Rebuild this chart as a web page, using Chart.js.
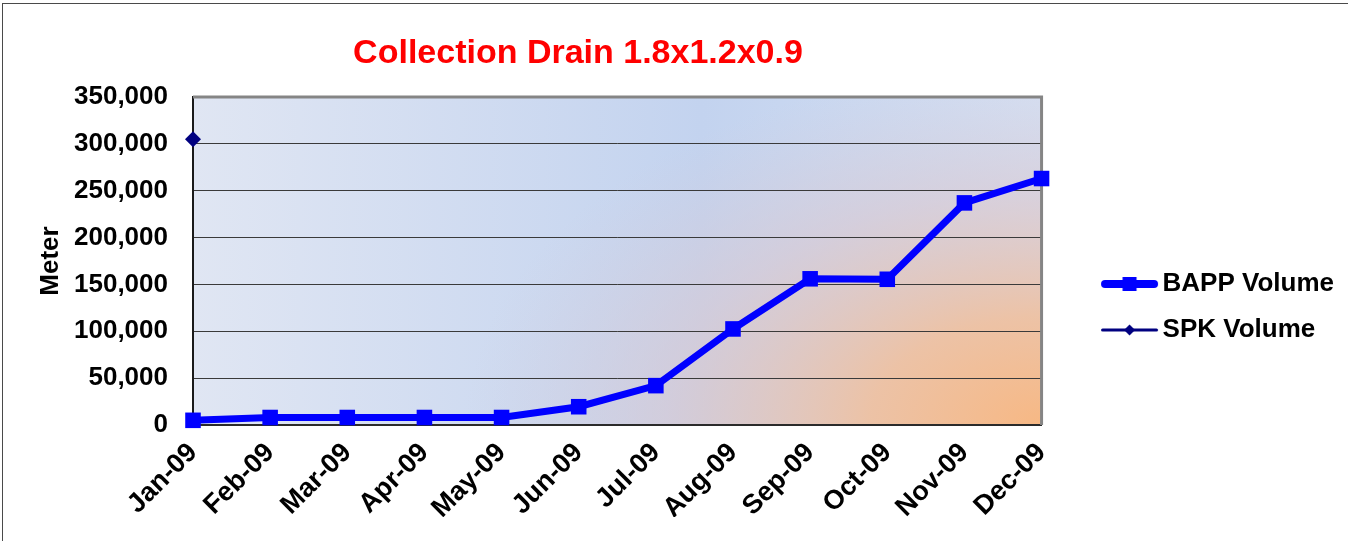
<!DOCTYPE html>
<html>
<head>
<meta charset="utf-8">
<title>Collection Drain 1.8x1.2x0.9</title>
<script src="https://cdn.jsdelivr.net/npm/chart.js@4.4.1/dist/chart.umd.min.js"></script>
<style>
    html, body { margin: 0; padding: 0; background: #fff; overflow: hidden; }
    #wrap { position: relative; width: 1348px; height: 541px; overflow: hidden; }
    #frame { position: absolute; left: 2px; top: 3px; width: 1360px; height: 560px; border: 1px solid #4a4a4a; pointer-events: none; }
</style>
</head>
<body>
<div id="wrap">
    <canvas id="drainChart" width="1348" height="541"></canvas>
    <div id="frame"></div>
</div>
<script>
// chart data
var months = ['Jan-09', 'Feb-09', 'Mar-09', 'Apr-09', 'May-09', 'Jun-09',
              'Jul-09', 'Aug-09', 'Sep-09', 'Oct-09', 'Nov-09', 'Dec-09'];
var bappVolume = [5000, 8000, 8000, 8000, 8000, 19500, 42000, 102500, 156000, 155500, 237000, 263000];
var spkVolume = [305000, null, null, null, null, null, null, null, null, null, null, null];
var yTicks = [0, 50000, 100000, 150000, 200000, 250000, 300000, 350000];

var titleText = 'Collection Drain 1.8x1.2x0.9';
var fontFamily = "'Liberation Sans', Arial, sans-serif";

// small line + marker picture used as the legend symbol
function legendSwatch(color, lineW, shape, size) {
    var c = document.createElement('canvas');
    c.width = 59;
    c.height = 22;
    var g = c.getContext('2d');
    g.strokeStyle = color;
    g.lineWidth = lineW;
    g.lineCap = 'round';
    g.beginPath();
    g.moveTo(lineW / 2 + 1, 11);
    g.lineTo(59 - lineW / 2 - 1, 11);
    g.stroke();
    g.fillStyle = color;
    if (shape === 'rect') {
        g.fillRect(29.5 - size / 2, 11 - size / 2, size, size);
    } else {
        g.beginPath();
        g.moveTo(29.5, 11 - size / 2);
        g.lineTo(29.5 + size / 2, 11);
        g.lineTo(29.5, 11 + size / 2);
        g.lineTo(29.5 - size / 2, 11);
        g.closePath();
        g.fill();
    }
    return c;
}
var swatches = [legendSwatch('#0000ff', 8, 'rect', 14), legendSwatch('#000080', 3, 'diamond', 11)];

// plot area background + frame, and the title
var plotDecor = {
    id: 'plotDecor',
    beforeDraw: function(chart) {
        var ctx = chart.ctx, a = chart.chartArea;
        ctx.save();
        var lin = ctx.createLinearGradient(a.left, a.top, a.right, a.top);
        lin.addColorStop(0, '#e0e6f3');
        lin.addColorStop(0.6, '#c3d3ef');
        lin.addColorStop(1, '#d5e0f3');
        ctx.fillStyle = lin;
        ctx.fillRect(a.left, a.top, a.right - a.left, a.bottom - a.top);

        ctx.beginPath();
        ctx.rect(a.left, a.top, a.right - a.left, a.bottom - a.top);
        ctx.clip();
        ctx.translate(a.right, a.bottom);
        ctx.scale(1.6, 1);
        var rad = ctx.createRadialGradient(0, 0, 0, 0, 0, 360);
        rad.addColorStop(0, 'rgba(247,184,132,1)');
        rad.addColorStop(0.3, 'rgba(238,193,162,0.95)');
        rad.addColorStop(0.65, 'rgba(218,200,208,0.62)');
        rad.addColorStop(1, 'rgba(210,204,220,0)');
        ctx.fillStyle = rad;
        ctx.fillRect(-600, -500, 600, 500);
        ctx.restore();
    },
    beforeDatasetsDraw: function(chart) {
        var ctx = chart.ctx, a = chart.chartArea;
        ctx.save();
        ctx.strokeStyle = '#858585';
        ctx.lineWidth = 3;
        ctx.beginPath();
        ctx.moveTo(a.left, a.top);
        ctx.lineTo(a.right, a.top);
        ctx.lineTo(a.right, a.bottom);
        ctx.stroke();
        ctx.restore();
    },
    afterDraw: function(chart) {
        var ctx = chart.ctx;
        ctx.save();
        ctx.fillStyle = '#ff0000';
        ctx.font = 'bold 34px ' + fontFamily;
        ctx.textAlign = 'center';
        ctx.textBaseline = 'alphabetic';
        ctx.fillText(titleText, 578, 63);
        ctx.restore();
    }
};

var ctx = document.getElementById('drainChart').getContext('2d');
new Chart(ctx, {
    type: 'line',
    data: {
        labels: months,
        datasets: [
            {
                label: 'BAPP Volume',
                data: bappVolume,
                borderColor: '#0000ff',
                backgroundColor: '#0000ff',
                borderWidth: 7,
                pointStyle: 'rect',
                pointRadius: 11,
                pointHoverRadius: 11,
                pointBorderWidth: 0,
                pointBackgroundColor: '#0000ff',
                tension: 0,
                clip: false
            },
            {
                label: 'SPK Volume',
                data: spkVolume,
                borderColor: '#000080',
                backgroundColor: '#000080',
                borderWidth: 2,
                pointStyle: 'rectRot',
                pointRadius: 8,
                pointHoverRadius: 8,
                pointBorderWidth: 0,
                pointBackgroundColor: '#000080',
                clip: false
            }
        ]
    },
    options: {
        responsive: false,
        animation: false,
        layout: {
            padding: { top: 97, left: 0, right: 4, bottom: 24 }
        },
        plugins: {
            title: { display: false },
            tooltip: { enabled: false },
            legend: {
                position: 'right',
                align: 'center',
                maxWidth: 320,
                labels: {
                    usePointStyle: true,
                    pointStyleWidth: 40,
                    padding: 20,
                    color: '#000',
                    font: { family: fontFamily, size: 26, weight: 'bold' },
                    generateLabels: function(chart) {
                        var items = Chart.defaults.plugins.legend.labels.generateLabels(chart);
                        items.forEach(function(it, i) { it.pointStyle = swatches[i]; });
                        return items;
                    }
                }
            }
        },
        scales: {
            x: {
                offset: false,
                grid: { display: false, drawTicks: false },
                border: { display: true, color: '#2b2b2b', width: 2 },
                ticks: {
                    minRotation: 45,
                    maxRotation: 45,
                    padding: 12,
                    color: '#000',
                    font: { family: fontFamily, size: 27, weight: 'bold' }
                },
                afterFit: function(scale) { scale.height = 92; }
            },
            y: {
                min: 0,
                max: 350000,
                afterBuildTicks: function(scale) {
                    scale.ticks = yTicks.map(function(v) { return { value: v }; });
                },
                grid: { color: '#3a3a3a', lineWidth: 1, drawTicks: false },
                border: { display: true, color: '#1a1a1a', width: 2 },
                ticks: {
                    padding: 25,
                    color: '#000',
                    font: { family: fontFamily, size: 26, weight: 'bold' },
                    callback: function(v) { return v.toLocaleString('en-US'); }
                },
                title: {
                    display: true,
                    text: 'Meter',
                    color: '#000',
                    padding: { top: 35, bottom: 0 },
                    font: { family: fontFamily, size: 26, weight: 'bold' }
                },
                afterFit: function(scale) { scale.width = 193; }
            },
            gap: {
                type: 'linear',
                position: 'right',
                display: true,
                grid: { display: false, drawTicks: false },
                border: { display: false },
                ticks: { display: false },
                afterFit: function(scale) { scale.width = 48; }
            }
        }
    },
    plugins: [plotDecor]
});
</script>
</body>
</html>
